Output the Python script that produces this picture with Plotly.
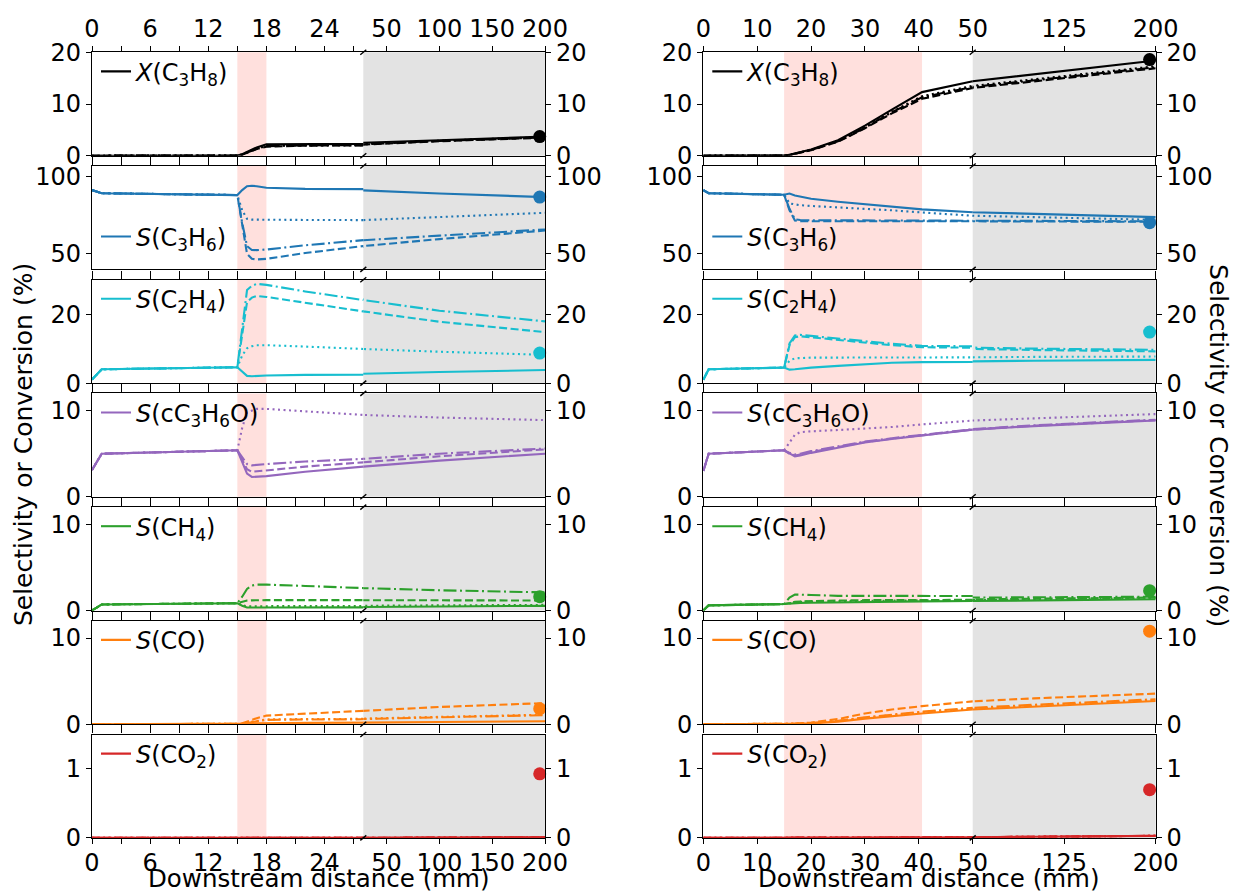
import plotly.graph_objects as go

W, H = 1233, 894

# ---------------- data ----------------
# x grids (downstream distance, mm)
XL = [0, 1, 15, 15.5, 16, 16.5, 17, 18, 22, 28, 100, 200]
XR = [0, 1, 15, 16, 17, 18, 20, 25, 30, 35, 40.6, 50, 100, 150, 200]

STYLES = ["solid", "dashed", "dashdot", "dotted"]

# left column panels
L_XC3H8 = {"solid":   [0, 0, 0.05, 0.3, 0.7, 1.1, 1.6, 2.2, 2.35, 2.5, 3.0, 3.7],
           "dashed":  [0, 0, 0.05, 0.2, 0.5, 0.9, 1.3, 1.75, 1.95, 2.15, 2.8, 3.5],
           "dashdot": [0, 0, 0.05, 0.25, 0.55, 0.95, 1.35, 1.85, 2.0, 2.2, 2.85, 3.55],
           "dotted":  [0, 0, 0.05, 0.25, 0.6, 1.0, 1.45, 1.95, 2.1, 2.3, 2.9, 3.6]}
L_C3H6 = {"solid":   [91, 89, 87.8, 91, 93.5, 93.8, 93.5, 92.5, 91.8, 90.8, 88.8, 86.5],
          "dashed":  [91, 89, 87.8, 68, 50, 46.8, 46.4, 46.8, 50.5, 55, 59.5, 65],
          "dashdot": [91, 89, 87.8, 70, 55, 52.5, 52.4, 52.8, 55.5, 58.8, 61.7, 65.7],
          "dotted":  [91, 89, 87.8, 78, 72.5, 72, 72, 71.9, 71.8, 71.7, 73.5, 76.4]}
L_C2H4 = {"solid":   [1, 4.0, 4.6, 3.3, 2.1, 2.0, 2.1, 2.2, 2.4, 2.7, 3.2, 3.8],
          "dashed":  [1, 4.0, 4.6, 14, 23.5, 24.8, 25.3, 25.0, 23.3, 20.8, 17.8, 14.8],
          "dashdot": [1, 4.0, 4.6, 16, 27, 28.2, 28.8, 28.5, 26.6, 24.1, 21.0, 17.9],
          "dotted":  [1, 4.0, 4.6, 8, 10.1, 10.7, 11.0, 11.0, 10.6, 9.9, 9.1, 8.2]}
L_C3H6O = {"solid":   [3.1, 5.0, 5.4, 4.0, 2.7, 2.3, 2.35, 2.4, 2.9, 3.5, 4.2, 5.0],
           "dashed":  [3.1, 5.0, 5.4, 4.3, 3.2, 2.9, 2.95, 3.05, 3.5, 4.0, 4.7, 5.5],
           "dashdot": [3.1, 5.0, 5.4, 4.6, 3.8, 3.65, 3.7, 3.8, 4.1, 4.4, 5.0, 5.6],
           "dotted":  [3.1, 5.0, 5.4, 8.0, 9.8, 10.0, 10.2, 10.2, 9.9, 9.5, 9.2, 8.9]}
L_CH4 = {"solid":   [0, 0.7, 0.85, 0.55, 0.35, 0.35, 0.35, 0.36, 0.38, 0.4, 0.47, 0.54],
         "dashed":  [0, 0.7, 0.85, 1.0, 1.15, 1.18, 1.2, 1.2, 1.2, 1.2, 1.18, 1.16],
         "dashdot": [0, 0.7, 0.85, 1.6, 2.5, 2.9, 3.0, 3.0, 2.85, 2.6, 2.35, 2.1],
         "dotted":  [0, 0.7, 0.85, 0.6, 0.5, 0.5, 0.5, 0.5, 0.52, 0.55, 0.6, 0.65]}
L_CO = {"solid":   [0, 0, 0, 0.02, 0.05, 0.08, 0.1, 0.12, 0.15, 0.18, 0.25, 0.35],
        "dashed":  [0, 0, 0, 0.1, 0.3, 0.5, 0.7, 1.0, 1.25, 1.55, 2.0, 2.45],
        "dashdot": [0, 0, 0, 0.05, 0.15, 0.25, 0.35, 0.5, 0.55, 0.6, 0.8, 1.05],
        "dotted":  [0, 0, 0, 0.05, 0.2, 0.3, 0.4, 0.55, 0.6, 0.65, 0.85, 1.1]}
L_CO2 = {"solid":   [0, 0, 0, 0, 0.005, 0.005, 0.01, 0.01, 0.01, 0.01, 0.01, 0.01],
         "dashed":  [0, 0, 0, 0, 0.005, 0.005, 0.01, 0.01, 0.01, 0.01, 0.01, 0.01],
         "dashdot": [0, 0, 0, 0, 0.005, 0.005, 0.01, 0.01, 0.01, 0.01, 0.01, 0.01],
         "dotted":  [0, 0, 0, 0, 0.005, 0.005, 0.01, 0.01, 0.01, 0.01, 0.01, 0.01]}

# right column panels
R_XC3H8 = {"solid":   [0, 0, 0.05, 0.2, 0.45, 0.7, 1.2, 3.0, 5.8, 8.9, 12.3, 14.4, 15.7, 17.0, 18.4],
           "dashed":  [0, 0, 0.05, 0.15, 0.35, 0.6, 1.05, 2.7, 5.3, 8.2, 11.0, 13.1, 14.4, 15.6, 16.9],
           "dashdot": [0, 0, 0.05, 0.17, 0.4, 0.65, 1.1, 2.8, 5.4, 8.4, 11.3, 13.3, 14.6, 15.8, 17.1],
           "dotted":  [0, 0, 0.05, 0.17, 0.4, 0.65, 1.1, 2.8, 5.5, 8.5, 11.5, 13.5, 14.8, 16.0, 17.3]}
R_C3H6 = {"solid":   [91, 89, 88, 88.8, 87.5, 86.8, 85.4, 83.5, 81.8, 80.2, 78.6, 76.8, 75.6, 74.5, 73.6],
          "dashed":  [91, 89, 88, 78, 71.5, 71.0, 71.0, 71.0, 71.0, 71.0, 71.0, 71.0, 70.9, 70.7, 70.6],
          "dashdot": [91, 89, 88, 79, 72.2, 71.8, 71.6, 71.5, 71.5, 71.5, 71.4, 71.3, 71.2, 71.0, 70.9],
          "dotted":  [91, 89, 88, 82.5, 81.8, 81.3, 80.8, 79.9, 79, 78, 76.6, 74.5, 73.5, 72.7, 71.9]}
R_C2H4 = {"solid":   [1, 4.0, 4.5, 3.9, 4.0, 4.2, 4.5, 5.0, 5.5, 5.9, 6.1, 6.3, 6.5, 6.6, 6.75],
          "dashed":  [1, 4.0, 4.5, 11.0, 13.3, 13.6, 13.3, 12.5, 11.8, 11.0, 10.4, 9.9, 9.6, 9.4, 9.2],
          "dashdot": [1, 4.0, 4.5, 11.5, 13.8, 14.0, 13.7, 12.9, 12.2, 11.4, 10.8, 10.3, 10.0, 9.8, 9.65],
          "dotted":  [1, 4.0, 4.5, 6.5, 7.2, 7.3, 7.4, 7.4, 7.4, 7.45, 7.5, 7.5, 7.6, 7.65, 7.7]}
R_C3H6O = {"solid":   [3.0, 5.0, 5.4, 5.0, 4.7, 4.8, 5.1, 5.7, 6.3, 6.7, 7.1, 7.8, 8.2, 8.55, 8.85],
           "dashed":  [3.0, 5.0, 5.4, 5.0, 4.8, 4.9, 5.2, 5.8, 6.35, 6.75, 7.15, 7.8, 8.25, 8.6, 8.9],
           "dashdot": [3.0, 5.0, 5.4, 5.1, 4.9, 5.0, 5.3, 5.85, 6.4, 6.8, 7.2, 7.85, 8.3, 8.65, 8.95],
           "dotted":  [3.0, 5.0, 5.4, 6.3, 7.2, 7.5, 7.6, 7.75, 7.9, 8.1, 8.4, 8.85, 9.1, 9.35, 9.6]}
R_CH4 = {"solid":   [0, 0.6, 0.75, 0.8, 0.85, 0.88, 0.9, 0.95, 1.0, 1.03, 1.06, 1.1, 1.17, 1.23, 1.3],
         "dashed":  [0, 0.6, 0.75, 0.9, 1.0, 1.05, 1.1, 1.15, 1.2, 1.23, 1.27, 1.3, 1.37, 1.44, 1.5],
         "dashdot": [0, 0.6, 0.75, 1.5, 1.85, 1.85, 1.8, 1.7, 1.65, 1.6, 1.55, 1.5, 1.53, 1.57, 1.6],
         "dotted":  [0, 0.6, 0.75, 0.85, 0.95, 1.0, 1.05, 1.1, 1.12, 1.15, 1.18, 1.2, 1.3, 1.38, 1.45]}
R_CO = {"solid":   [0, 0, 0, 0.01, 0.03, 0.05, 0.1, 0.3, 0.65, 0.95, 1.25, 1.7, 2.05, 2.4, 2.7],
        "dashed":  [0, 0, 0, 0.02, 0.06, 0.1, 0.2, 0.6, 1.25, 1.7, 2.1, 2.65, 3.0, 3.3, 3.55],
        "dashdot": [0, 0, 0, 0.01, 0.04, 0.07, 0.13, 0.4, 0.8, 1.1, 1.45, 1.9, 2.25, 2.6, 2.9],
        "dotted":  [0, 0, 0, 0.01, 0.04, 0.07, 0.12, 0.38, 0.75, 1.05, 1.4, 1.8, 2.15, 2.5, 2.8]}
R_CO2 = {"solid":   [0, 0, 0, 0, 0, 0, 0, 0, 0.003, 0.005, 0.007, 0.01, 0.017, 0.024, 0.03],
         "dashed":  [0, 0, 0, 0, 0, 0, 0, 0, 0.003, 0.005, 0.007, 0.01, 0.017, 0.024, 0.03],
         "dashdot": [0, 0, 0, 0, 0, 0, 0, 0, 0.003, 0.005, 0.007, 0.01, 0.017, 0.024, 0.03],
         "dotted":  [0, 0, 0, 0, 0, 0, 0, 0, 0.003, 0.005, 0.007, 0.01, 0.017, 0.024, 0.03]}

# experimental points at x = 195 mm (None = no point)
EXP_X = 195
EXP_LEFT = [3.7, 86.5, 8.7, None, 1.6, 1.8, 0.93]
EXP_RIGHT = [18.6, 70.0, 14.8, None, 2.3, 10.8, 0.7]

LABELS = ["<i>X</i>(C<sub>3</sub>H<sub>8</sub>)",
          "<i>S</i>(C<sub>3</sub>H<sub>6</sub>)",
          "<i>S</i>(C<sub>2</sub>H<sub>4</sub>)",
          "<i>S</i>(cC<sub>3</sub>H<sub>6</sub>O)",
          "<i>S</i>(CH<sub>4</sub>)",
          "<i>S</i>(CO)",
          "<i>S</i>(CO<sub>2</sub>)"]
COLORS = ["#000000", "#1f77b4", "#17becf", "#9467bd", "#2ca02c", "#ff7f0e", "#d62728"]
YRANGES = [(0, 20), (40, 106.5), (0, 30), (0, 12), (0, 12), (0, 12), (0, 1.5)]
YTICKS = [[0, 10, 20], [50, 100], [0, 20], [0, 10], [0, 10], [0, 10], [0, 1]]

# broken x-axis: (left segment range, right segment range) per column
XRANGES = [((0, 28), (28, 200)), ((0, 50), (50, 200))]
# (labelled ticks left seg, minor tick step left seg, labelled ticks right seg)
XTICKS = [([0, 6, 12, 18, 24], 3, [50, 100, 150, 200]),
          ([0, 10, 20, 30, 40, 50], None, [125, 200])]
HEATED_ZONE = [(15, 18), (15, 40.6)]

LEFT_DATA = [L_XC3H8, L_C3H6, L_C2H4, L_C3H6O, L_CH4, L_CO, L_CO2]
RIGHT_DATA = [R_XC3H8, R_C3H6, R_C2H4, R_C3H6O, R_CH4, R_CO, R_CO2]

# ---------------- layout geometry (pixels) ----------------
COL_SEG_PX = [((92, 363.3), (363.3, 545)), ((703.3, 972.7), (972.7, 1155.7))]
ROW_TOP0, ROW_H, ROW_PITCH = 52.3, 103.4, 113.7
FONT = "DejaVu Sans"
FS = 24
DASH = {"solid": "solid", "dashed": "8px,3.5px", "dashdot": "13px,3.5px,2px,3.5px", "dotted": "2px,3.5px"}
PINK = "#ffe0dd"
GRAY = "#e3e3e3"


def px_x(p):
    return p / W


def px_y(p):
    return 1 - p / H


fig = go.Figure()
layout = dict(width=W, height=H, margin=dict(l=0, r=0, t=0, b=0),
              paper_bgcolor="white", plot_bgcolor="white",
              font=dict(family=FONT, size=FS, color="black"), showlegend=True)
shapes = []
annotations = []

for c, data in enumerate([LEFT_DATA, RIGHT_DATA]):
    xgrid = XL if c == 0 else XR
    exps = EXP_LEFT if c == 0 else EXP_RIGHT
    for r in range(7):
        top = ROW_TOP0 + r * ROW_PITCH
        bot = top + ROW_H
        ydom = [px_y(bot), px_y(top)]
        pidx = c * 7 + r
        legname = "legend" if pidx == 0 else f"legend{pidx + 1}"
        for s in range(2):
            idx = r * 4 + c * 2 + s + 1
            xn = "x" if idx == 1 else f"x{idx}"
            yn = "y" if idx == 1 else f"y{idx}"
            x0p, x1p = COL_SEG_PX[c][s]
            xr = XRANGES[c][s]
            tv = XTICKS[c][0] if s == 0 else XTICKS[c][2]
            xa = dict(
                domain=[px_x(x0p), px_x(x1p)], range=list(xr), anchor=yn,
                showgrid=False, zeroline=False, showline=True, linecolor="black", linewidth=1.2,
                mirror="ticks", ticks="outside", ticklen=5, tickwidth=1.2, tickcolor="black",
                tickvals=tv, ticktext=[str(v) for v in tv],
                side="top" if r == 0 else "bottom",
                showticklabels=(r == 0 or r == 6), tickfont=dict(size=FS),
                automargin=False, fixedrange=True)
            if r == 6:
                xa["ticklabelstandoff"] = -2
            if s == 0 and XTICKS[c][1]:
                xa["minor"] = dict(tick0=0, dtick=XTICKS[c][1], ticks="outside", ticklen=5,
                                   tickwidth=1.2, tickcolor="black", showgrid=False)
            layout["xaxis" if idx == 1 else f"xaxis{idx}"] = xa
            layout["yaxis" if idx == 1 else f"yaxis{idx}"] = dict(
                domain=ydom, range=list(YRANGES[r]), anchor=xn,
                side="left" if s == 0 else "right",
                showgrid=False, zeroline=False, showline=True, linecolor="black", linewidth=1.2,
                mirror=False, ticks="outside", ticklen=5, tickwidth=1.2, tickcolor="black",
                tickvals=YTICKS[r], tickfont=dict(size=FS), automargin=False, fixedrange=True)
            # backgrounds
            if s == 1:
                shapes.append(dict(type="rect", xref=f"{xn} domain", yref=f"{yn} domain",
                                   x0=0, x1=1, y0=0, y1=1, fillcolor=GRAY, line=dict(width=0),
                                   layer="below"))
            else:
                hz = HEATED_ZONE[c]
                shapes.append(dict(type="rect", xref=xn, yref=f"{yn} domain",
                                   x0=hz[0], x1=hz[1], y0=0, y1=1, fillcolor=PINK,
                                   line=dict(width=0), layer="below"))
            # lines
            for st in STYLES:
                fig.add_trace(go.Scatter(
                    x=xgrid, y=data[r][st], mode="lines", xaxis=xn, yaxis=yn,
                    line=dict(color=COLORS[r], width=2.1, dash=DASH[st]),
                    name=LABELS[r], legend=legname,
                    showlegend=(s == 0 and st == "solid"), hoverinfo="skip"))
            if s == 1 and exps[r] is not None:
                fig.add_trace(go.Scatter(
                    x=[EXP_X], y=[exps[r]], mode="markers", xaxis=xn, yaxis=yn,
                    marker=dict(color=COLORS[r], size=13), cliponaxis=False,
                    showlegend=False, hoverinfo="skip"))
        # legend for this panel
        lx = COL_SEG_PX[c][0][0] + 4
        if r == 1:
            layout[legname] = dict(x=px_x(lx), y=px_y(bot - 10), xanchor="left", yanchor="bottom",
                                   bgcolor="rgba(0,0,0,0)", font=dict(size=FS), itemwidth=30)
        else:
            layout[legname] = dict(x=px_x(lx), y=px_y(top - 3), xanchor="left", yanchor="top",
                                   bgcolor="rgba(0,0,0,0)", font=dict(size=FS), itemwidth=30)
        # break marks at top and bottom of this panel
        bx = COL_SEG_PX[c][0][1]
        for yy in (top, bot):
            shapes.append(dict(type="line", xref="paper", yref="paper",
                               x0=px_x(bx - 3), y0=px_y(yy + 2.5), x1=px_x(bx + 3), y1=px_y(yy - 2.5),
                               line=dict(color="black", width=1.4)))

    # column x title
    cx = (COL_SEG_PX[c][0][0] + COL_SEG_PX[c][1][1]) / 2
    annotations.append(dict(text="Downstream distance (mm)", x=px_x(cx), y=0,
                            xref="paper", yref="paper", showarrow=False,
                            xanchor="center", yanchor="bottom", font=dict(size=24.5),
                            borderpad=0))

yc = px_y(ROW_TOP0 + (6 * ROW_PITCH + ROW_H) / 2)
annotations.append(dict(text="Selectivity or Conversion (%)", x=px_x(23), y=yc, xref="paper", yref="paper",
                        showarrow=False, textangle=-90, xanchor="center", yanchor="middle", font=dict(size=25)))
annotations.append(dict(text="Selectivity or Conversion (%)", x=px_x(1219), y=yc, xref="paper", yref="paper",
                        showarrow=False, textangle=90, xanchor="center", yanchor="middle", font=dict(size=25)))

layout["shapes"] = shapes
layout["annotations"] = annotations
fig.update_layout(**layout)
fig.write_html("out.html")
